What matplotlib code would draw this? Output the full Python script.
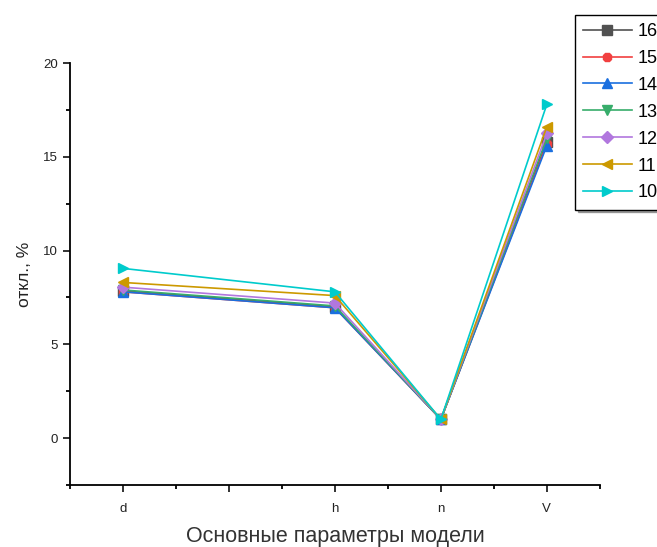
import matplotlib.pyplot as plt
from matplotlib.ticker import MultipleLocator

plt.rcParams["font.family"] = ["Liberation Sans", "DejaVu Sans"]

# x positions of the parameters on the numeric axis
params = ["d", "h", "n", "V"]
x_pos = [1, 3, 4, 5]

series_names = ["16", "15", "14", "13", "12", "11", "10"]
s16 = [7.85, 7.0, 1.0, 15.8]
s15 = [7.8, 6.95, 1.0, 15.7]
s14 = [7.8, 6.95, 1.0, 15.6]
s13 = [7.9, 7.05, 1.0, 16.0]
s12 = [8.05, 7.2, 1.0, 16.25]
s11 = [8.3, 7.6, 1.0, 16.6]
s10 = [9.05, 7.8, 1.0, 17.8]

colors = ["#515151", "#F14040", "#1A6FDF", "#37AD6B",
          "#B177DE", "#CC9900", "#00CBCC"]
markers = ["s", "8", "^", "v", "D", "<", ">"]
sizes = [6.5, 7, 7.5, 7.5, 6, 7.5, 7.5]

fig = plt.figure(figsize=(6.57, 5.47), dpi=100)
ax = fig.add_axes([0.1065, 0.1133, 0.8065, 0.7715])

all_series = [s16, s15, s14, s13, s12, s11, s10]
for name, vals, c, m, ms in zip(series_names, all_series, colors, markers, sizes):
    ax.plot(x_pos, vals, color=c, marker=m, markersize=ms, linewidth=1.2,
            label=name)

ax.set_xlim(0.5, 5.5)
ax.set_ylim(-2.5, 20)
ax.set_xticks([1, 2, 3, 4, 5])
ax.set_xticklabels(["d", "", "h", "n", "V"])
ax.xaxis.set_minor_locator(MultipleLocator(0.5))
ax.yaxis.set_minor_locator(MultipleLocator(2.5))
ax.set_yticks([0, 5, 10, 15, 20])

ax.spines["top"].set_visible(False)
ax.spines["right"].set_visible(False)
for sp in ["left", "bottom"]:
    ax.spines[sp].set_linewidth(1.3)
ax.tick_params(which="major", direction="out", length=5, width=1.3,
               labelsize=9.5, colors="#222222")
ax.tick_params(which="minor", direction="out", length=3, width=1.3)
ax.tick_params(axis="x", pad=8)

ax.set_xlabel("Основные параметры модели", fontsize=15.5, color="#333333",
              labelpad=8)
ax.set_ylabel("откл., %", fontsize=12.5, color="#222222", labelpad=8)

leg = fig.legend(loc="upper left", bbox_to_anchor=(0.875, 0.973),
                 fontsize=13, labelspacing=0.55, handlelength=2.7,
                 handletextpad=0.3, borderaxespad=0, borderpad=0.45,
                 fancybox=False, shadow={"ox": 2, "oy": -2, "color": "#555555"},
                 framealpha=1)
leg.get_frame().set_edgecolor("black")
leg.get_frame().set_linewidth(1.0)

fig.savefig("out.png", dpi=100)
